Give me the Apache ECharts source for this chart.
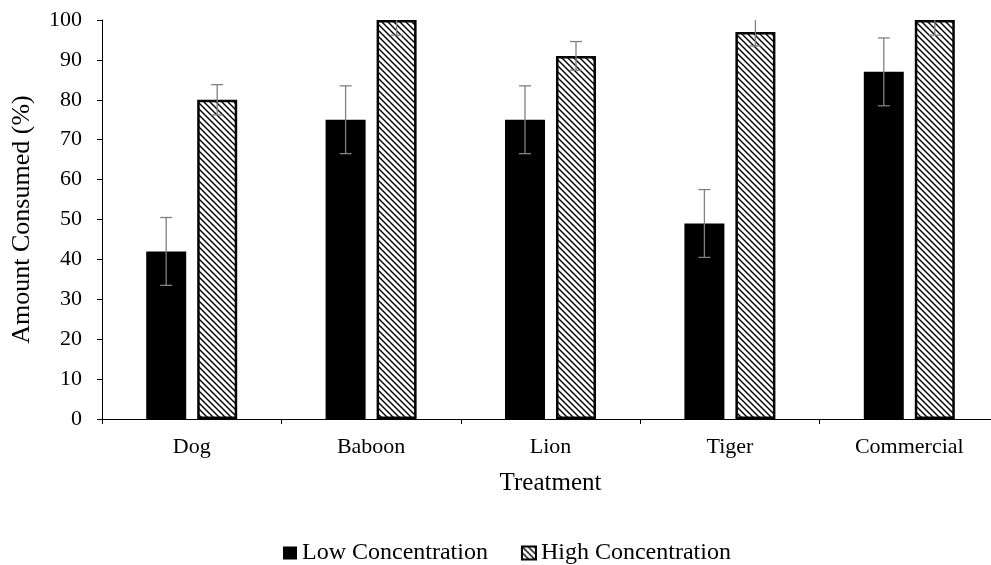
<!DOCTYPE html>
<html>
<head>
<meta charset="utf-8">
<script src="https://cdn.jsdelivr.net/npm/echarts@6/dist/echarts.min.js"></script>
<style>html,body{margin:0;padding:0;background:#fff}#c{width:991px;height:565px}</style>
</head>
<body>
<div id="c"></div>
<script>
var categories = ['Dog', 'Baboon', 'Lion', 'Tiger', 'Commercial'];
var lowValues = [42, 75, 75, 49, 87];
var lowErrors = [8.5, 8.5, 8.5, 8.5, 8.5];
var highValues = [80, 100, 91, 97, 100];
var highErrors = [3.8, 3.8, 3.6, 3.5, 3.8];
var yTicks = [0, 10, 20, 30, 40, 50, 60, 70, 80, 90, 100];

var FONT = '"Liberation Serif", "Times New Roman", serif';

function makeHatch() {
  var c = document.createElement('canvas');
  c.width = 6; c.height = 6;
  var g = c.getContext('2d');
  g.fillStyle = '#fff';
  g.fillRect(0, 0, 6, 6);
  g.strokeStyle = '#000';
  g.lineWidth = 1.4;
  g.beginPath();
  g.moveTo(-1, -1); g.lineTo(7, 7);
  g.moveTo(-4, 2); g.lineTo(1, 7);
  g.moveTo(5, -1); g.lineTo(10, 4);
  g.stroke();
  return c;
}
var hatch = makeHatch();

function errData(vals, errs) {
  return vals.map(function (v, i) { return [i, v, errs[i]]; });
}

function errSeries(vals, errs, side) {
  return {
    type: 'custom',
    data: errData(vals, errs),
    z: 10,
    silent: true,
    renderItem: function (params, api) {
      var i = api.value(0), v = api.value(1), e = api.value(2);
      var band = api.size([1, 0])[0];
      var off = side * band * (25.5 / 179.4);
      var hiV = Math.min(100, v + e), loV = Math.max(0, v - e);
      var top = api.coord([i, hiV]);
      var bot = api.coord([i, loV]);
      var x = top[0] + off;
      var style = { stroke: '#808080', lineWidth: 1.3 };
      var kids = [
        { type: 'line', shape: { x1: x, y1: top[1], x2: x, y2: bot[1] }, style: style },
        { type: 'line', shape: { x1: x - 6, y1: bot[1], x2: x + 6, y2: bot[1] }, style: style }
      ];
      if (v + e <= 100) {
        kids.push({ type: 'line', shape: { x1: x - 6, y1: top[1], x2: x + 6, y2: top[1] }, style: style });
      }
      return { type: 'group', children: kids };
    }
  };
}

var chart = echarts.init(document.getElementById('c'));
chart.setOption({
  animation: false,
  backgroundColor: '#fff',
  textStyle: { fontFamily: FONT },
  grid: { left: 102, top: 20, right: -8, height: 399, containLabel: false, outerBoundsMode: 'none' },
  legend: {
    top: 541,
    left: 283,
    padding: 0,
    itemWidth: 14,
    itemHeight: 13,
    itemGap: 33,
    icon: 'rect',
    textStyle: { fontFamily: FONT, fontSize: 24, color: '#000' },
    data: ['Low Concentration', 'High Concentration']
  },
  xAxis: {
    type: 'category',
    data: categories,
    name: 'Treatment',
    nameLocation: 'middle',
    nameGap: 52,
    nameTextStyle: { fontFamily: FONT, fontSize: 25, color: '#000' },
    axisLine: { lineStyle: { color: '#000', width: 1 } },
    axisTick: { show: true, length: 5, lineStyle: { color: '#000' } },
    axisLabel: { fontFamily: FONT, fontSize: 22, color: '#000', margin: 17 }
  },
  yAxis: {
    type: 'value',
    min: 0, max: 100, interval: 10,
    name: 'Amount Consumed (%)',
    nameLocation: 'middle',
    nameGap: 67,
    nameTextStyle: { fontFamily: FONT, fontSize: 26, color: '#000' },
    axisLine: { show: true, lineStyle: { color: '#000', width: 1 } },
    axisTick: { show: true, length: 5, lineStyle: { color: '#000' } },
    splitLine: { show: false },
    axisLabel: {
      fontFamily: FONT, fontSize: 22, color: '#000', margin: 20,
      formatter: function (v) { return yTicks.indexOf(v) >= 0 ? String(v) : ''; }
    }
  },
  series: [
    {
      name: 'Low Concentration',
      type: 'bar',
      data: lowValues,
      barWidth: 40,
      barGap: '27.5%',
      itemStyle: { color: '#000' }
    },
    {
      name: 'High Concentration',
      type: 'bar',
      data: highValues,
      barWidth: 40,
      barGap: '27.5%',
      itemStyle: { color: { image: hatch, repeat: 'repeat' }, borderColor: '#000', borderWidth: 2.5 }
    },
    errSeries(lowValues, lowErrors, -1),
    errSeries(highValues, highErrors, 1)
  ]
});
</script>
</body>
</html>
